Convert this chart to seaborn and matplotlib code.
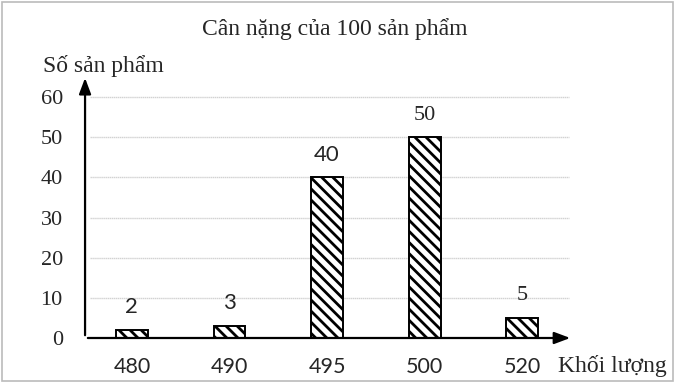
import matplotlib
matplotlib.use("Agg")
import matplotlib.pyplot as plt
import seaborn as sns
import pandas as pd

categories = ["480", "490", "495", "500", "520"]
counts = [2, 3, 40, 50, 5]
yticks = [0, 10, 20, 30, 40, 50, 60]

sns.set_theme(style="white")
plt.rcParams["font.family"] = ["Liberation Serif", "DejaVu Serif"]
plt.rcParams["hatch.linewidth"] = 2.0
plt.rcParams["hatch.color"] = "black"

df = pd.DataFrame({"kl": categories, "n": counts})

fig = plt.figure(figsize=(6.75, 3.83), dpi=100)
ax = fig.add_axes([0.126, 0.1175, 0.72, 0.681])

sns.barplot(data=df, x="kl", y="n", ax=ax, color="white", edgecolor="black",
            linewidth=1.4, width=0.325, hatch="\\\\\\", zorder=3)

ax.set_xlim(-0.48, 4.5)
ax.set_ylim(0, 65)
ax.set_yticks(yticks)
ax.set_yticklabels([str(v) for v in yticks], fontsize=16)
ax.tick_params(axis="y", length=0, pad=16)
ax.tick_params(axis="x", length=0, pad=14)
for lab in ax.get_xticklabels():
    lab.set_fontfamily(["Lato", "DejaVu Sans"])
    lab.set_fontsize(15.5)
ax.set_xlabel("")
ax.set_ylabel("")

for v in yticks[1:]:
    ax.axhline(v, xmin=0.01, xmax=0.995, color="#d2d2d2", lw=1.0, ls=(0, (1, 0.4)), zorder=1)

for s in ax.spines.values():
    s.set_visible(False)

# arrows for axes
ax.annotate("", xy=(4.52, 0), xytext=(-0.48, 0), xycoords="data",
            arrowprops=dict(arrowstyle="-|>,head_length=0.8,head_width=0.3", color="black", lw=1.6),
            zorder=5, annotation_clip=False)
ax.annotate("", xy=(-0.48, 65.5), xytext=(-0.48, 0), xycoords="data",
            arrowprops=dict(arrowstyle="-|>,head_length=0.8,head_width=0.3", color="black", lw=1.6),
            zorder=5, annotation_clip=False)

for i, v in enumerate(counts):
    ax.text(i, v + 3.2, str(v), ha="center", va="bottom", fontsize=16,
            family=["Lato", "DejaVu Sans"] if v in (2, 3, 40) else ["Liberation Serif"])

fig.text(0.4955, 0.9086, "Cân nặng của 100 sản phẩm", ha="center", va="baseline", fontsize=17)
fig.text(0.063, 0.812, "Số sản phẩm", ha="left", va="baseline", fontsize=17)
fig.text(0.826, 0.0287, "Khối lượng", ha="left", va="baseline", fontsize=17)

border = plt.Rectangle((0.003, 0.004), 0.994, 0.99, transform=fig.transFigure,
                       fill=False, edgecolor="#bbbbbb", lw=1.2)
fig.add_artist(border)

fig.savefig("out.png", dpi=100, facecolor="white")
